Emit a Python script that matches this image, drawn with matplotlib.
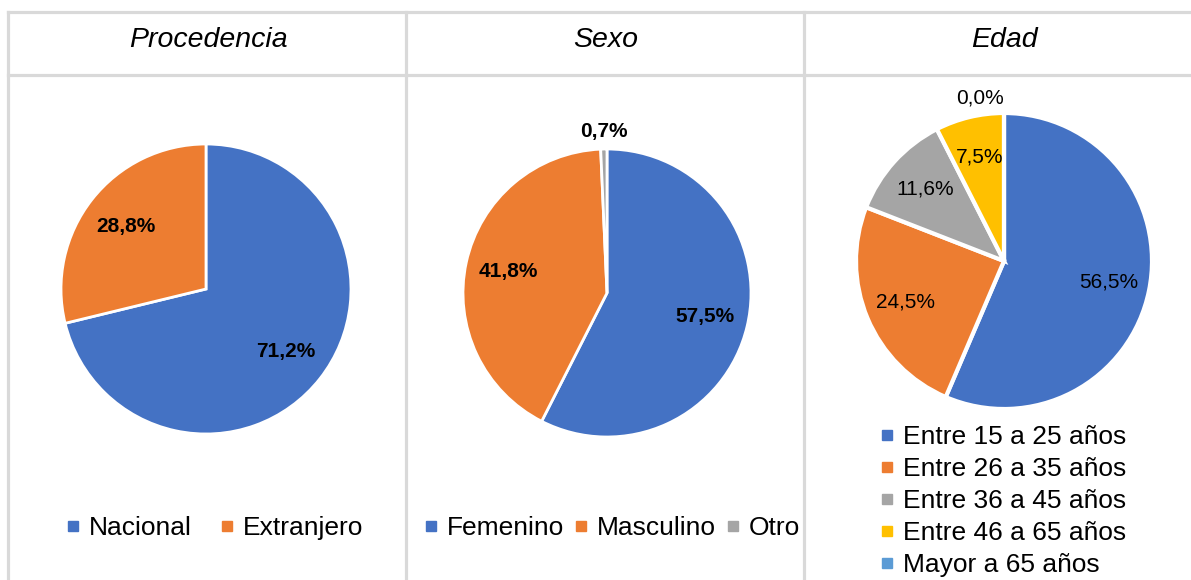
import matplotlib
matplotlib.use("Agg")
import matplotlib.pyplot as plt
from matplotlib.lines import Line2D
import numpy as np

plt.rcParams['font.family'] = ['Liberation Sans', 'DejaVu Sans']

# datos
titulos = ['Procedencia', 'Sexo', 'Edad']

procedencia_labels = ['Nacional', 'Extranjero']
procedencia_vals = [71.2, 28.8]

sexo_labels = ['Femenino', 'Masculino', 'Otro']
sexo_vals = [57.5, 41.8, 0.7]

edad_labels = ['Entre 15 a 25 años', 'Entre 26 a 35 años', 'Entre 36 a 45 años',
               'Entre 46 a 65 años', 'Mayor a 65 años']
edad_vals = [56.5, 24.5, 11.6, 7.5, 0.0]

colores = ['#4472C4', '#ED7D31', '#A5A5A5', '#FFC000', '#5B9BD5']

W, H = 1191, 580
fig = plt.figure(figsize=(W / 100, H / 100), dpi=100)

# lineas de la tabla (en pixeles)
def px_line(x0, y0, x1, y1):
    fig.add_artist(Line2D([x0 / W, x1 / W], [1 - y0 / H, 1 - y1 / H],
                          transform=fig.transFigure, color='#d9d9d9', lw=2.3))

px_line(8, 12, W, 12)
px_line(8, 75, W, 75)
for x in (8, 406, 804):
    px_line(x, 12, x, H)

for t, cx in zip(titulos, (208, 606, 1004)):
    fig.text(cx / W, 1 - 40 / H, t, ha='center', va='center',
             fontsize=20.5, style='italic')


def pie_ax(cx, cy, r):
    ax = fig.add_axes([(cx - r) / W, (H - cy - r) / H, 2 * r / W, 2 * r / H])
    ax.axis('off')
    return ax


def fix_lims(ax):
    # pie() pone sus propios limites, se corrigen despues
    ax.set_xlim(-1, 1)
    ax.set_ylim(-1, 1)


def etiquetas(ax, wedges, vals, dist, weight, fontsize, dist_chico=1.12):
    for w, v in zip(wedges, vals):
        ang = np.deg2rad((w.theta1 + w.theta2) / 2)
        d = dist if v >= 2 else dist_chico
        ha = 'center'
        if v == 0:
            ha = 'right'
        ax.text(d * np.cos(ang), d * np.sin(ang), f'{v:.1f}%'.replace('.', ','),
                ha=ha, va='center', fontsize=fontsize, fontweight=weight,
                clip_on=False)


def leyenda(ax, labels, cols, x, y, ncol, colsp, lsp=0.5):
    handles = [Line2D([], [], marker='s', ls='none', color=c, markersize=6.5)
               for c in cols]
    ax.legend(handles, labels, loc='center', bbox_to_anchor=(x / W, 1 - y / H),
              bbox_transform=fig.transFigure, ncol=ncol, frameon=False,
              fontsize=19, handlelength=0.5, handletextpad=0.35,
              columnspacing=colsp, labelspacing=lsp, borderpad=0)


# Procedencia
ax1 = pie_ax(206, 289, 145)
w1, _ = ax1.pie(procedencia_vals, colors=colores[:2], startangle=90, counterclock=False,
                wedgeprops=dict(edgecolor='white', linewidth=2))
fix_lims(ax1)
etiquetas(ax1, w1, procedencia_vals, 0.7, 'bold', 15)
leyenda(ax1, procedencia_labels, colores[:2], 215, 528, 2, 1.1)

# Sexo
ax2 = pie_ax(607, 293, 144)
w2, _ = ax2.pie(sexo_vals, colors=colores[:3], startangle=90, counterclock=False,
                wedgeprops=dict(edgecolor='white', linewidth=2))
fix_lims(ax2)
etiquetas(ax2, w2, sexo_vals, 0.7, 'bold', 15)
leyenda(ax2, sexo_labels, colores[:3], 612, 528, 3, 0.4)

# Edad
ax3 = pie_ax(1004, 261, 148)
w3, _ = ax3.pie(edad_vals, colors=colores, startangle=90, counterclock=False,
                wedgeprops=dict(edgecolor='white', linewidth=3))
fix_lims(ax3)
etiquetas(ax3, w3, edad_vals, 0.72, 'normal', 15, dist_chico=1.1)
leyenda(ax3, edad_labels, colores, 1003, 501, 1, 1.0, lsp=0.3)

fig.savefig('out.png', dpi=100)
